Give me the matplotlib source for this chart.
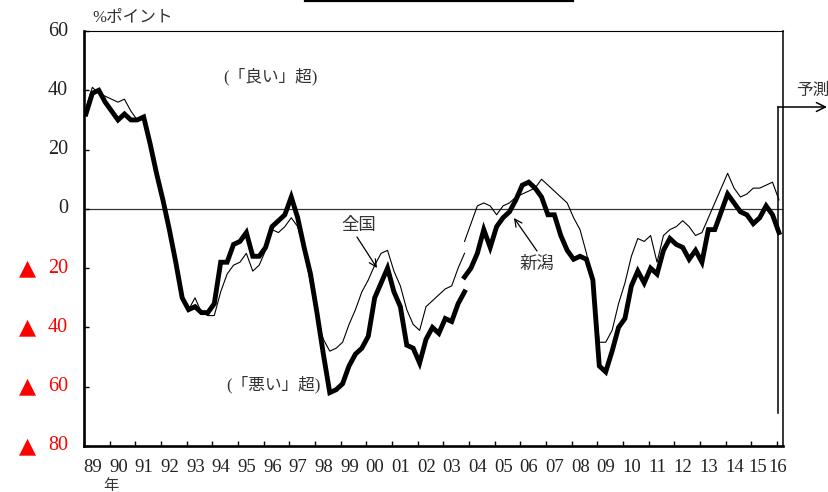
import numpy as np
import matplotlib
matplotlib.use('Agg')
import matplotlib.pyplot as plt
from matplotlib.lines import Line2D

plt.rcParams['font.family'] = ['Liberation Serif', 'Noto Sans CJK JP']

# year labels (one per year, quarterly data underneath)
years = ['89', '90', '91', '92', '93', '94', '95', '96', '97', '98', '99', '00', '01', '02',
         '03', '04', '05', '06', '07', '08', '09', '10', '11', '12', '13', '14', '15', '16']
y_ticks = [60, 40, 20, 0, -20, -40, -60, -80]

# quarterly DI, 1989Q1 - 2003Q4 (old basis)
zenkoku_old = [34, 41, 39, 38, 37, 36, 37, 33, 30, 31, 22, 13, 3, -8, -19, -29,
               -34, -30, -35, -36, -36, -28, -22, -19, -18, -15, -21, -19, -14, -7,
               -8, -6, -3, -6, -14, -25, -37, -44, -48, -47, -45, -39, -34, -28,
               -24, -19, -15, -14, -21, -26, -34, -39, -41, -33, -31, -29, -27, -26,
               -20, -15]
niigata_old = [32, 39, 40, 36, 33, 30, 32, 30, 30, 31, 22, 12, 3, -7, -18, -30,
               -34, -33, -35, -35, -32, -18, -18, -12, -11, -8, -16, -16, -13, -6,
               -4, -2, 4, -3, -13, -22, -35, -49, -62, -61, -59, -53, -49, -47,
               -43, -30, -25, -20, -28, -33, -46, -47, -52, -44, -40, -42, -37, -38,
               -32, -28]
# 2003Q4 - 2016Q1 (new basis)
zenkoku_new = [-11, -5, 1, 2, 1, -2, 1, 2, 4, 5, 6, 7, 10, 8, 6, 4, 2, -3, -7, -15,
               -24, -45, -45, -41, -32, -25, -16, -10, -11, -9, -18, -9, -7, -6, -4,
               -6, -9, -8, -3, 2, 7, 12, 7, 4, 5, 7, 7, 8, 9, 3]
niigata_new = [-23, -20, -15, -7, -13, -6, -3, -1, 3, 8, 9, 7, 4, -2, -2, -9, -14,
               -17, -16, -17, -24, -53, -55, -48, -40, -37, -26, -21, -25, -20, -22,
               -14, -10, -12, -13, -17, -14, -18, -7, -7, -1, 5, 2, -1, -2, -5, -3,
               1, -2, -8]
break_q = 59  # quarter index where the new basis starts

fig = plt.figure(figsize=(8.29, 4.92), dpi=100)
ax = fig.add_axes([84 / 829, 1 - 446 / 492, (783 - 84) / 829, (446 - 31) / 492])

x_old = np.arange(len(niigata_old)) + 0.3
x_new = np.arange(len(niigata_new)) + break_q + 0.3

ax.axhline(0, color='#333333', lw=0.9, zorder=1)
ax.plot(x_old, zenkoku_old, color='black', lw=0.8, zorder=2)
ax.plot(x_new, zenkoku_new, color='black', lw=0.8, zorder=2)
ax.plot(x_old, niigata_old, color='black', lw=3.5, zorder=3, solid_joinstyle='miter')
ax.plot(x_new, niigata_new, color='black', lw=3.5, zorder=3, solid_joinstyle='miter')

ax.set_xlim(0, 108.93)
ax.set_ylim(-80, 60)
ax.set_xticks(np.arange(0, 109, 4))
ax.set_xticklabels([])
ax.set_yticks(y_ticks)
ax.set_yticklabels([])
ax.tick_params(direction='in', length=3.8, width=1.0)

ax.spines['left'].set_linewidth(1.9)
ax.spines['bottom'].set_linewidth(1.9)
ax.spines['top'].set_linewidth(0.8)
ax.spines['right'].set_linewidth(1.1)

# year labels
xt = ax.get_xaxis_transform()
label_pos = [4 * k + 1.35 for k in range(len(years))]
label_pos[-2] = 104.95
label_pos[-1] = 108.15
for pos, lab in zip(label_pos, years):
    ax.text(pos, -0.053, lab, transform=xt, ha='center', va='center', fontsize=13.5, color='#222222')

# y labels, negatives in red with a triangle
yt = ax.get_yaxis_transform()
for v in y_ticks:
    col = '#222222' if v >= 0 else '#ff0000'
    ax.text(-0.023, v, str(abs(v)), transform=yt, ha='right', va='center', fontsize=14.5, color=col)
    if v < 0:
        ax.text(-0.0815, v, '▲', transform=yt, ha='center', va='center', fontsize=16, color=col,
                family=['DejaVu Sans'])

def fp(x, y):
    return x / 829, 1 - y / 492

fig.text(*fp(92, 18), '%ポイント', ha='left', va='center', fontsize=12, color='#333333')
fig.text(*fp(270, 77), '(「良い」超)', ha='center', va='center', fontsize=12, color='#333333')
fig.text(*fp(273, 385), '(「悪い」超)', ha='center', va='center', fontsize=12, color='#333333')
fig.text(*fp(359, 226), '全国', ha='center', va='center', fontsize=12.5, color='#333333')
fig.text(*fp(537, 265), '新潟', ha='center', va='center', fontsize=12.5, color='#333333')
fig.text(*fp(813, 91), '予測', ha='center', va='center', fontsize=12, color='#333333')
fig.text(*fp(111, 486), '年', ha='center', va='center', fontsize=11, color='#333333')

ap = dict(arrowstyle='->', lw=0.9, color='black', mutation_scale=13, shrinkA=0, shrinkB=0)
ax.annotate('', xy=(377, 492 - 268), xytext=(357, 492 - 237), xycoords='figure pixels',
            textcoords='figure pixels', arrowprops=ap)
ax.annotate('', xy=(514, 492 - 218), xytext=(537, 492 - 251), xycoords='figure pixels',
            textcoords='figure pixels', arrowprops=ap)

# forecast marker
fig.add_artist(Line2D([778 / 829, 778 / 829], [1 - 413 / 492, 1 - 107 / 492], color='black', lw=1.1))
ax.annotate('', xy=(827, 492 - 107), xytext=(778, 492 - 107), xycoords='figure pixels',
            textcoords='figure pixels', arrowprops=dict(arrowstyle='->', lw=1.1, color='black',
                                                        mutation_scale=16, shrinkA=0, shrinkB=0))

# title underline cut at the top
fig.add_artist(Line2D([305 / 829, 573 / 829], [1 - 1 / 492, 1 - 1 / 492], color='black', lw=1.6))

fig.savefig('out.png', dpi=100)
